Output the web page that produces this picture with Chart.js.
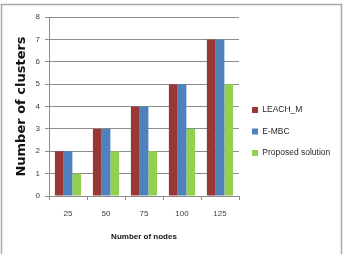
<!DOCTYPE html>
<html><head><meta charset="utf-8">
<style>html,body{margin:0;padding:0;background:#fff;}#wrap{position:relative;width:348px;height:254px;}</style>
<script src="https://cdn.jsdelivr.net/npm/chart.js@4"></script>
</head><body><div id="wrap"><canvas id="c" width="348" height="254"></canvas></div>
<script>
const categories = ['25', '50', '75', '100', '125'];
const leachM = [2, 3, 4, 5, 7];
const eMbc = [2, 3, 4, 5, 7];
const proposed = [1, 2, 2, 3, 5];
const seriesNames = ['LEACH_M', 'E-MBC', 'Proposed solution'];
const yTicks = [0, 1, 2, 3, 4, 5, 6, 7, 8];

const W = 348, plotRight = 239;
const legendFont = {family: "'Liberation Sans', Arial, sans-serif", size: 8.5};
const legendPad = 13, legendBox = 6;
const mctx = document.createElement('canvas').getContext('2d');
mctx.font = legendFont.size + 'px ' + legendFont.family;
let maxText = 0;
seriesNames.forEach(s => { maxText = Math.max(maxText, mctx.measureText(s).width); });
const naturalLegend = legendPad + legendBox + legendFont.size / 2 + maxText + 10;
// Chart.js caps a vertical box at (available width)/4 when there are two vertical boxes
let padRight = W - plotRight / 0.75;
if (naturalLegend < (W - padRight) / 4) padRight = W - plotRight - naturalLegend;

const gridCol = '#8c8c8c';
const tickFont = {family: "'Liberation Sans', Arial, sans-serif", size: 8};

const borderPlugin = {
  id: 'outerBorder',
  afterLayout(chart) {
    // let the legend text run past the capped legend box (avoid clipping)
    if (chart.legend) chart.legend.right = chart.width;
  },
  beforeDraw(chart) {
    const ctx = chart.ctx;
    ctx.save();
    ctx.strokeStyle = '#a8a8a8';
    ctx.lineWidth = 1.5;
    ctx.strokeRect(1.5, 4.5, 340, 300);
    ctx.restore();
  }
};

new Chart(document.getElementById('c'), {
  type: 'bar',
  data: {
    labels: categories,
    datasets: [
      {label: seriesNames[0], data: leachM, backgroundColor: '#993735'},
      {label: seriesNames[1], data: eMbc, backgroundColor: '#4F81BD'},
      {label: seriesNames[2], data: proposed, backgroundColor: '#92D050'}
    ]
  },
  options: {
    responsive: false,
    animation: false,
    devicePixelRatio: 1,
    layout: {padding: {top: 17, left: 0, right: padRight, bottom: 8}},
    datasets: {bar: {categoryPercentage: 0.69, barPercentage: 1.0}},
    plugins: {
      tooltip: {enabled: false},
      legend: {
        position: 'right',
        fullSize: true,
        labels: {boxWidth: legendBox, boxHeight: legendBox, padding: legendPad, font: legendFont, color: '#262626'}
      }
    },
    scales: {
      x: {
        afterFit(s) { s.height = 50; },
        grid: {drawOnChartArea: false, drawTicks: true, tickLength: 4, color: gridCol},
        border: {display: true, color: gridCol},
        ticks: {font: tickFont, color: '#404040', padding: 9},
        title: {display: true, text: 'Number of nodes', color: '#111', padding: {top: 0, bottom: 4},
          font: {family: "'Liberation Sans', Arial, sans-serif", size: 8, weight: 'bold'}}
      },
      y: {
        min: 0, max: 8,
        afterFit(s) { s.width = 49; },
        afterBuildTicks(s) { s.ticks = yTicks.map(v => ({value: v})); },
        grid: {color: gridCol, tickLength: 4, drawTicks: true},
        border: {display: true, color: gridCol},
        ticks: {font: tickFont, color: '#404040', padding: 5},
        title: {display: true, text: 'Number of clusters', color: '#111', padding: {top: 14, bottom: 0},
          font: {family: "'DejaVu Sans', sans-serif", size: 13, weight: 'bold'}}
      }
    }
  },
  plugins: [borderPlugin]
});
</script></body></html>
